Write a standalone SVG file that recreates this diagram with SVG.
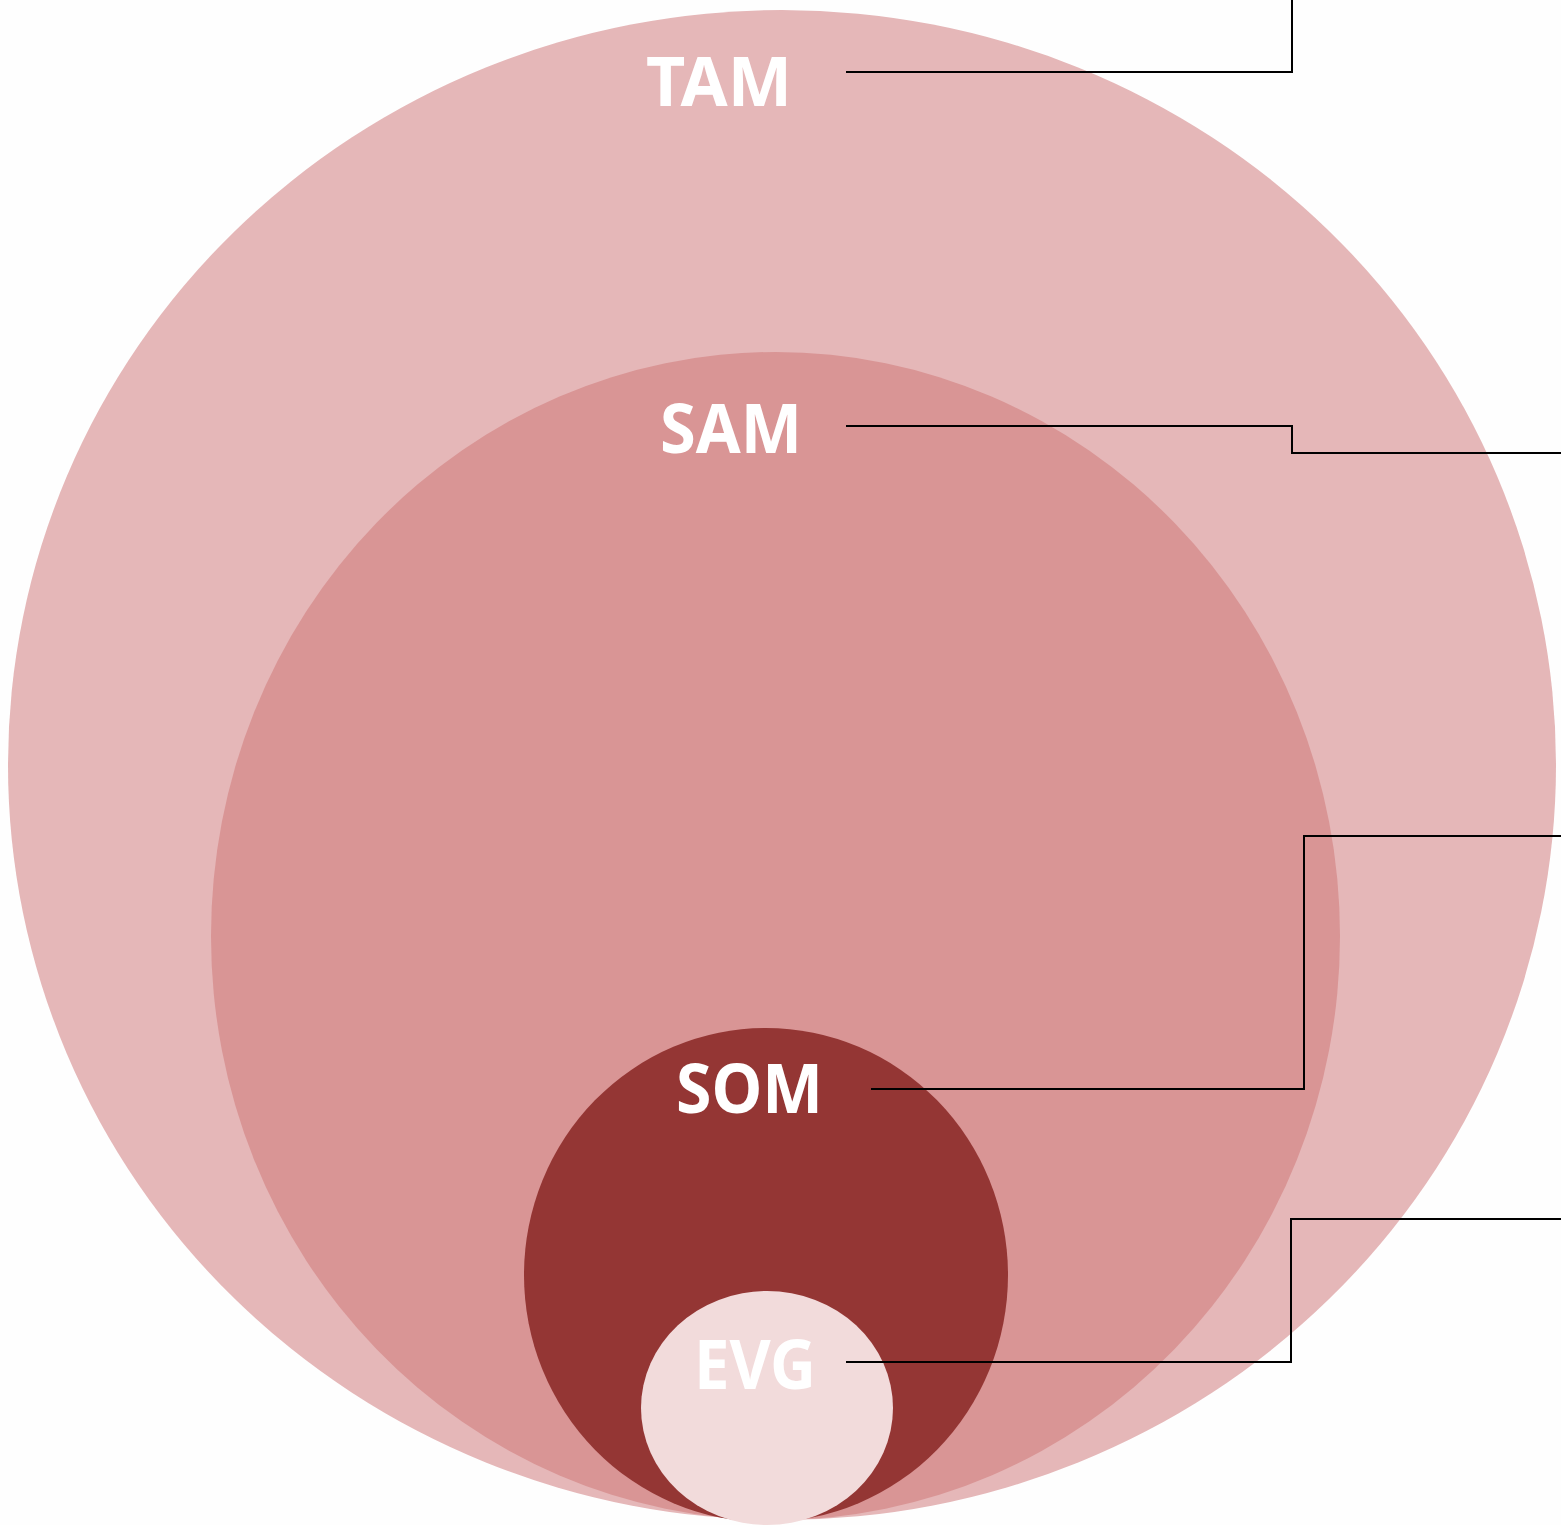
<svg xmlns="http://www.w3.org/2000/svg" width="1561" height="1525" viewBox="0 0 1561 1525">
<style>
.lbl{font-family:"Noto Sans","Open Sans","Liberation Sans",sans-serif;font-weight:bold;font-size:68px;fill:#FFFFFF}
.conn{fill:none;stroke:#000000;stroke-width:2}
</style>
<rect width="1561" height="1525" fill="#FEFEFE"/>
<g id="tam">
<ellipse cx="782" cy="765" rx="774" ry="755" fill="#E5B7B8"/>
<text class="lbl" x="646" y="106" textLength="146" lengthAdjust="spacingAndGlyphs">TAM</text>
</g>
<g id="sam">
<ellipse cx="775.5" cy="936" rx="564.5" ry="584" fill="#D99595"/>
<text class="lbl" x="660" y="453" textLength="142" lengthAdjust="spacingAndGlyphs">SAM</text>
</g>
<g id="som">
<ellipse cx="766" cy="1275" rx="242" ry="247" fill="#943634"/>
<text class="lbl" x="676" y="1113" textLength="147" lengthAdjust="spacingAndGlyphs">SOM</text>
</g>
<g id="evg">
<ellipse cx="767" cy="1408" rx="126" ry="117" fill="#F2DBDB"/>
<text class="lbl" x="694" y="1389" textLength="122" lengthAdjust="spacingAndGlyphs">EVG</text>
</g>
<g id="connectors">
<polyline class="conn" points="846,72 1292,72 1292,0"/>
<polyline class="conn" points="846,426 1292,426 1292,453 1561,453"/>
<polyline class="conn" points="871,1089 1304,1089 1304,836 1561,836"/>
<polyline class="conn" points="846,1362 1291,1362 1291,1219 1561,1219"/>
</g>
</svg>
